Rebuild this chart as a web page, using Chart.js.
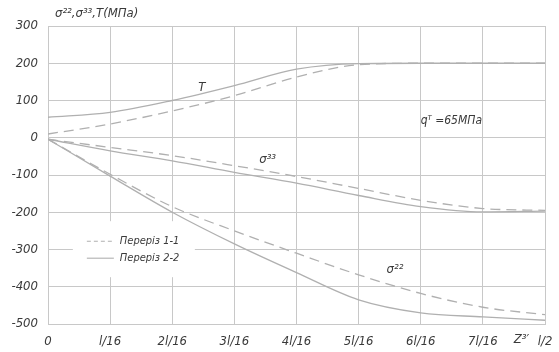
<!DOCTYPE html>
<html>
<head>
<meta charset="utf-8">
<script src="https://cdn.jsdelivr.net/npm/chart.js@4/dist/chart.umd.min.js"></script>
<style>
  html, body { margin: 0; padding: 0; background: #fff; }
  #wrap { width: 559px; height: 352px; position: relative; }
</style>
</head>
<body>
<div id="wrap"><canvas id="c"></canvas></div>
<script>
// x in units of l/16
const xs = [0, 1, 2, 3, 4, 5, 6, 7, 8]
const xTickLabels = ['0', 'l/16', '2l/16', '3l/16', '4l/16', '5l/16', '6l/16', '7l/16', 'l/2']

const tSolid    = [55, 68, 100, 140, 184, 199, 200, 200, 200]
const tDashed   = [10, 37, 72, 113, 163, 196, 200, 200, 200]
const s33Solid  = [-4, -35, -62, -93, -122, -155, -185, -199, -197]
const s33Dashed = [-4, -26, -48, -75, -104, -136, -168, -190, -195]
const s22Solid  = [-4, -103, -200, -285, -362, -435, -470, -481, -490]
const s22Dashed = [-4, -98, -185, -250, -310, -368, -418, -455, -475]

const legendNames = ['Переріз 1-1', 'Переріз 2-2']
const yTitle = 'σ²²,σ³³,T(МПа)'

const lineColor = '#b0b0b0'
const gridColor = '#c8c8c8'
const textColor = '#3a3a3a'
const fontFamily = "'Liberation Sans Narrow', 'DejaVu Sans Condensed', sans-serif"

function pts(values){
    return values.map((v, i) => ({x: xs[i], y: v}))
}

function series(values, dashed){
    return {
        data: pts(values),
        borderColor: lineColor,
        borderWidth: 1.3,
        borderDash: dashed ? [10, 6] : [],
        pointRadius: 0,
        cubicInterpolationMode: 'monotone',
        fill: false
    }
}

const textPlugin = {
    id: 'texts',
    beforeDatasetsDraw(chart){
        const ctx = chart.ctx
        const x = chart.scales.x, y = chart.scales.y
        // white box behind the legend, cuts the grid
        const lx = x.getPixelForValue(0.4), ly = y.getPixelForValue(-224)
        ctx.save()
        ctx.fillStyle = '#fff'
        ctx.fillRect(lx, ly, 122, 56)
        ctx.restore()
    },
    afterDraw(chart){
        const ctx = chart.ctx
        const x = chart.scales.x, y = chart.scales.y
        ctx.save()
        ctx.fillStyle = textColor
        ctx.textBaseline = 'middle'
        ctx.textAlign = 'left'

        // axis title
        ctx.font = 'italic 13px ' + fontFamily
        ctx.fillText(yTitle, 55, 14)

        // curve labels
        ctx.fillText('T', x.getPixelForValue(2.42), y.getPixelForValue(135))
        ctx.fillText('σ³³', x.getPixelForValue(3.4), y.getPixelForValue(-58))
        ctx.fillText('σ²²', x.getPixelForValue(5.45), y.getPixelForValue(-353))
        ctx.font = 'italic 12px ' + fontFamily
        ctx.fillText('qᵀ =65МПа', x.getPixelForValue(6.0), y.getPixelForValue(44))

        // Z3' near the last tick
        ctx.font = 'italic 13px ' + fontFamily
        ctx.textAlign = 'center'
        ctx.fillText('Z³′', x.getPixelForValue(7.62), chart.chartArea.bottom + 16)

        // legend
        ctx.font = 'italic 11px ' + fontFamily
        const lx = x.getPixelForValue(0.4), ly = y.getPixelForValue(-224)
        ctx.textAlign = 'left'
        ctx.strokeStyle = lineColor
        ctx.lineWidth = 1.1
        const rows = [[true, ly + 20], [false, ly + 37]]
        rows.forEach(([dashed, ry], i) => {
            ctx.setLineDash(dashed ? [4, 3] : [])
            ctx.beginPath()
            ctx.moveTo(lx + 14, ry)
            ctx.lineTo(lx + 41, ry)
            ctx.stroke()
            ctx.fillText(legendNames[i], lx + 47, ry)
        })
        ctx.restore()
    }
}

new Chart(document.getElementById('c'), {
    type: 'line',
    data: {
        datasets: [
            series(tSolid, false),
            series(tDashed, true),
            series(s33Solid, false),
            series(s33Dashed, true),
            series(s22Solid, false),
            series(s22Dashed, true)
        ]
    },
    options: {
        responsive: true,
        maintainAspectRatio: false,
        animation: false,
        layout: { padding: { top: 26, right: 14, left: 0, bottom: 0 } },
        plugins: { legend: { display: false }, tooltip: { enabled: false } },
        scales: {
            x: {
                type: 'linear',
                min: 0, max: 8,
                grid: { color: gridColor, drawTicks: false },
                border: { color: gridColor },
                ticks: {
                    stepSize: 1,
                    autoSkip: false,
                    maxRotation: 0,
                    padding: 10,
                    color: textColor,
                    font: { family: fontFamily, size: 13, style: 'italic' },
                    callback: v => xTickLabels[xs.indexOf(v)]
                },
                afterFit: s => { s.height = 28; s.paddingLeft = 0; s.paddingRight = 0 }
            },
            y: {
                min: -500, max: 300,
                grid: { color: gridColor, drawTicks: false },
                border: { color: gridColor },
                ticks: {
                    stepSize: 100,
                    padding: 10,
                    color: textColor,
                    font: { family: fontFamily, size: 13, style: 'italic' }
                },
                afterFit: s => { s.width = 48; s.paddingTop = 0; s.paddingBottom = 0 }
            }
        }
    },
    plugins: [textPlugin]
})
</script>
</body>
</html>
